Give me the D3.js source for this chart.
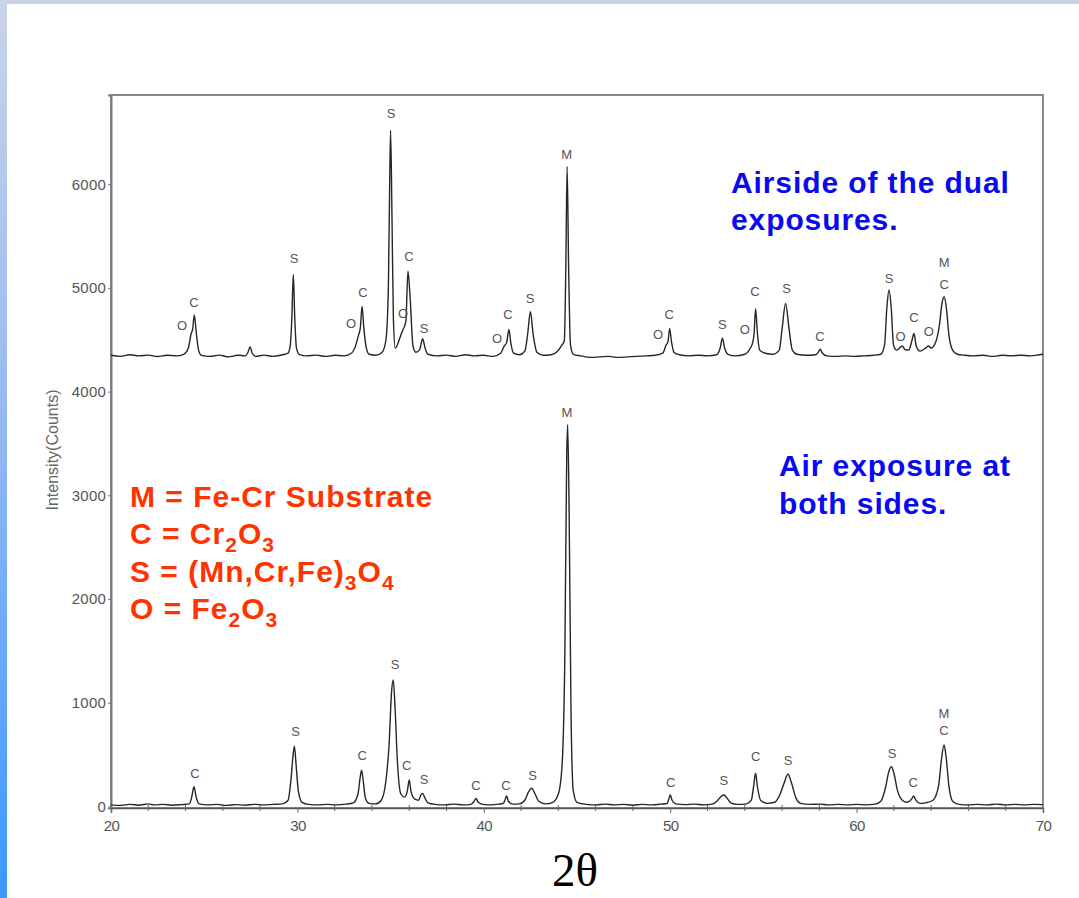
<!DOCTYPE html>
<html>
<head>
<meta charset="utf-8">
<script src="https://cdn.jsdelivr.net/npm/d3@7"></script>
<style>
    body { margin: 0; background: #fff; }
    svg { display: block; }
</style>
</head>
<body>
<div id="chart"></div>
<script>
// [2theta (deg), intensity (counts)]
const airsideScan = [
    [20.0, 4350], [20.5, 4340], [21.0, 4355], [21.5, 4345], [22.0, 4352], [22.5, 4338], [23.0, 4350], [23.5, 4345], [23.9, 4360],
    [24.15, 4420], [24.3, 4560], [24.38, 4600], [24.47, 4740], [24.58, 4560], [24.7, 4400], [24.85, 4350],
    [25.3, 4340], [25.8, 4352], [26.3, 4335], [26.8, 4350], [27.2, 4345], [27.35, 4380], [27.46, 4430], [27.58, 4370], [27.75, 4340],
    [28.2, 4352], [28.7, 4340], [29.2, 4355], [29.5, 4370],
    [29.62, 4450], [29.7, 4700], [29.78, 5130], [29.86, 4700], [29.95, 4420], [30.1, 4360],
    [30.5, 4345], [31.0, 4352], [31.5, 4340], [32.0, 4350], [32.5, 4345], [32.9, 4370],
    [33.1, 4430], [33.28, 4545], [33.38, 4620], [33.47, 4820], [33.57, 4600], [33.7, 4420], [33.85, 4360],
    [34.2, 4350], [34.55, 4380], [34.75, 4500],
    [34.88, 5000], [34.95, 6000], [35.0, 6520], [35.08, 5600], [35.15, 4700], [35.25, 4420],
    [35.5, 4520], [35.6, 4570], [35.82, 4680], [35.93, 5160], [36.05, 4900], [36.2, 4440], [36.35, 4380],
    [36.55, 4400], [36.72, 4510], [36.85, 4420], [37.0, 4360],
    [37.5, 4345], [38.0, 4352], [38.5, 4340], [39.0, 4355], [39.5, 4345], [40.0, 4350], [40.5, 4340], [40.9, 4370],
    [41.1, 4440], [41.22, 4470], [41.35, 4600], [41.45, 4470], [41.6, 4370], [41.9, 4355], [42.2, 4390],
    [42.35, 4550], [42.5, 4770], [42.65, 4550], [42.85, 4380], [43.2, 4350], [43.6, 4355], [43.9, 4380], [44.2, 4450], [44.32, 4490],
    [44.4, 5200], [44.47, 6170], [44.55, 5200], [44.65, 4450], [44.8, 4360],
    [45.2, 4345], [45.7, 4330], [46.2, 4335], [46.7, 4340], [47.2, 4330], [47.7, 4335], [48.2, 4340], [48.7, 4345], [49.2, 4350], [49.6, 4370],
    [49.78, 4450], [49.88, 4480], [49.97, 4610], [50.07, 4480], [50.2, 4380],
    [50.5, 4355], [51.0, 4345], [51.5, 4350], [52.0, 4345], [52.5, 4355],
    [52.68, 4420], [52.8, 4515], [52.92, 4420], [53.1, 4360], [53.5, 4345], [54.0, 4360], [54.3, 4420],
    [54.42, 4470], [54.5, 4560], [54.58, 4800], [54.68, 4560], [54.8, 4400], [55.1, 4370], [55.5, 4360], [55.85, 4400],
    [56.0, 4600], [56.19, 4850], [56.38, 4600], [56.55, 4400], [56.8, 4360], [57.3, 4350], [57.8, 4355],
    [57.95, 4380], [58.05, 4410], [58.15, 4375], [58.4, 4345],
    [58.9, 4340], [59.4, 4345], [59.9, 4340], [60.4, 4345], [60.9, 4350], [61.3, 4360],
    [61.5, 4450], [61.62, 4800], [61.74, 4980], [61.86, 4800], [61.98, 4450], [62.15, 4400],
    [62.3, 4420], [62.45, 4440], [62.6, 4405], [62.8, 4400],
    [62.95, 4480], [63.08, 4560], [63.2, 4440], [63.4, 4390],
    [63.7, 4420], [63.85, 4440], [64.0, 4420], [64.25, 4480],
    [64.45, 4650], [64.58, 4850], [64.7, 4915], [64.82, 4800], [64.95, 4550], [65.15, 4400], [65.4, 4360],
    [65.8, 4350], [66.3, 4345], [66.8, 4350], [67.3, 4340], [67.8, 4350], [68.3, 4345], [68.8, 4350], [69.3, 4345], [69.8, 4355], [70.0, 4360]
];

const bothSidesScan = [
    [20.0, 15], [20.5, 10], [21.0, 20], [21.5, 12], [22.0, 25], [22.3, 15], [22.8, 20], [23.3, 12], [23.8, 18], [24.2, 25],
    [24.33, 90], [24.45, 190], [24.57, 90], [24.72, 25],
    [25.2, 15], [25.7, 20], [26.2, 10], [26.7, 18], [27.2, 12], [27.7, 20], [28.2, 15], [28.7, 20], [29.2, 25], [29.5, 60],
    [29.65, 250], [29.76, 480], [29.84, 580], [29.93, 400], [30.05, 150], [30.25, 40],
    [30.6, 20], [31.1, 15], [31.6, 20], [32.1, 15], [32.6, 22], [33.0, 35],
    [33.25, 120], [33.36, 270], [33.44, 350], [33.53, 250], [33.65, 80], [33.85, 30], [34.2, 25], [34.5, 60],
    [34.75, 250], [34.92, 600], [35.05, 1100], [35.14, 1220], [35.24, 950], [35.36, 450], [35.55, 120], [35.75, 90],
    [35.9, 150], [36.0, 255], [36.1, 140], [36.3, 70],
    [36.5, 60], [36.62, 110], [36.72, 126], [36.82, 90], [37.0, 35],
    [37.4, 20], [37.9, 15], [38.4, 22], [38.9, 15], [39.3, 20],
    [39.48, 50], [39.58, 78], [39.7, 40], [39.95, 20], [40.4, 15], [40.8, 22], [41.05, 30],
    [41.15, 70], [41.22, 100], [41.32, 50], [41.55, 22], [41.9, 25], [42.2, 60],
    [42.4, 140], [42.57, 175], [42.75, 120], [42.95, 50], [43.3, 25], [43.7, 40], [44.0, 120], [44.2, 400],
    [44.35, 1500], [44.45, 3400], [44.5, 3680], [44.58, 2800], [44.68, 900], [44.8, 150], [45.0, 40],
    [45.5, 20], [46.0, 15], [46.5, 22], [47.0, 15], [47.5, 20], [48.0, 12], [48.5, 20], [49.0, 15], [49.5, 22], [49.85, 30],
    [49.92, 70], [50.0, 110], [50.1, 60], [50.3, 25],
    [50.8, 18], [51.3, 22], [51.8, 15], [52.3, 25],
    [52.55, 60], [52.75, 100], [52.88, 110], [53.05, 80], [53.25, 35], [53.6, 20], [54.1, 25], [54.35, 60],
    [54.48, 200], [54.58, 320], [54.68, 190], [54.85, 60], [55.2, 30], [55.6, 40], [55.9, 120],
    [56.1, 220], [56.32, 310], [56.5, 230], [56.75, 80], [57.0, 30],
    [57.5, 20], [58.0, 22], [58.5, 15], [59.0, 20], [59.5, 15], [60.0, 20], [60.5, 15], [61.0, 22], [61.3, 50],
    [61.55, 180], [61.72, 330], [61.87, 383], [62.0, 320], [62.2, 150], [62.45, 60], [62.7, 40],
    [62.95, 70], [63.06, 100], [63.18, 60], [63.4, 30], [63.7, 35], [64.1, 60],
    [64.4, 200], [64.55, 450], [64.69, 592], [64.8, 480], [64.95, 200], [65.15, 50],
    [65.5, 20], [66.0, 15], [66.5, 20], [67.0, 15], [67.5, 22], [68.0, 15], [68.5, 20], [69.0, 15], [69.5, 20], [70.0, 18]
];

// phase letters over the peaks: [2theta, counts, letter]
const airsideLabels = [
    [23.81, 4643, "O"], [24.45, 4864, "C"], [29.82, 5284, "S"], [32.88, 4662, "O"], [33.52, 4960, "C"],
    [35.02, 6686, "S"], [35.67, 4759, "O"], [35.99, 5303, "C"], [36.79, 4613, "S"],
    [40.71, 4517, "O"], [41.3, 4749, "C"], [42.48, 4902, "S"], [44.45, 6284, "M"],
    [49.35, 4556, "O"], [49.94, 4749, "C"], [52.8, 4652, "S"], [54.0, 4604, "O"], [54.55, 4963, "C"],
    [56.24, 4996, "S"], [58.04, 4529, "C"], [61.74, 5095, "S"], [62.36, 4529, "O"], [63.08, 4720, "C"],
    [63.88, 4578, "O"], [64.7, 5243, "M"], [64.7, 5037, "C"]
];

const bothSidesLabels = [
    [24.5, 319, "C"], [29.9, 727, "S"], [33.48, 496, "C"], [35.24, 1373, "S"], [35.86, 399, "C"],
    [36.79, 261, "S"], [39.58, 206, "C"], [41.19, 206, "C"], [42.62, 303, "S"], [44.46, 3803, "M"],
    [50.03, 229, "C"], [52.88, 255, "S"], [54.58, 479, "C"], [56.32, 447, "S"], [61.9, 512, "S"],
    [63.04, 229, "C"], [64.69, 898, "M"], [64.69, 737, "C"]
];

const xTicks = [20, 30, 40, 50, 60, 70];
const xMinorTicks = [22, 24, 26, 28, 32, 34, 36, 38, 42, 44, 46, 48, 52, 54, 56, 58, 62, 64, 66, 68];
const yTicks = [0, 1000, 2000, 3000, 4000, 5000, 6000];

// legend lines, each part: [text, isSubscript]
const legendLines = [
    [["M = Fe-Cr Substrate", false]],
    [["C = Cr", false], ["2", true], ["O", false], ["3", true]],
    [["S = (Mn,Cr,Fe)", false], ["3", true], ["O", false], ["4", true]],
    [["O = Fe", false], ["2", true], ["O", false], ["3", true]]
];
const airsideNote = ["Airside of the dual", "exposures."];
const bothSidesNote = ["Air exposure at", "both sides."];

function DrawChart() {
    const width = 1079;
    const height = 898;
    const margin = { top: 95, right: 36, bottom: 90, left: 111 };

    const svg = d3.select("#chart")
        .append("svg")
        .attr("width", width)
        .attr("height", height);

    // slide decoration: light band on top, blue gradient on the left
    const defs = svg.append("defs");
    const grad = defs.append("linearGradient")
        .attr("id", "sideBar")
        .attr("x1", 0).attr("y1", 0).attr("x2", 0).attr("y2", 1);
    grad.append("stop").attr("offset", 0).attr("stop-color", "#cad4e8");
    grad.append("stop").attr("offset", 0.5).attr("stop-color", "#91b7f3");
    grad.append("stop").attr("offset", 1).attr("stop-color", "#3b98ff");

    svg.append("rect").attr("width", width).attr("height", 4).attr("fill", "#c9d3e7");
    svg.append("rect").attr("width", 7).attr("height", height).attr("fill", "url(#sideBar)");

    defs.append("clipPath").attr("id", "plotClip")
        .append("rect")
        .attr("x", margin.left).attr("y", margin.top)
        .attr("width", width - margin.left - margin.right)
        .attr("height", height - margin.top - margin.bottom);

    const x = d3.scaleLinear()
        .domain([20, 70])
        .range([margin.left, width - margin.right]);

    const y = d3.scaleLinear()
        .domain([-15, 6860])
        .range([height - margin.bottom, margin.top]);

    // frame
    svg.append("rect")
        .attr("x", margin.left)
        .attr("y", margin.top)
        .attr("width", width - margin.left - margin.right)
        .attr("height", height - margin.top - margin.bottom)
        .attr("fill", "none")
        .attr("stroke", "#8a8a8a")
        .attr("stroke-width", 2);

    // y axis
    const yAxis = svg.append("g")
        .attr("transform", `translate(${margin.left},0)`)
        .call(d3.axisLeft(y).tickValues(yTicks).tickSize(3).tickPadding(2).tickFormat(d3.format("d")));
    yAxis.select(".domain").attr("stroke", "#7a7a7a").attr("stroke-width", 2);
    yAxis.selectAll(".tick line").attr("stroke", "#777");
    yAxis.selectAll(".tick text")
        .attr("fill", "#555")
        .attr("font-family", "Liberation Sans, Arial, sans-serif")
        .attr("font-size", "15px")
        .attr("letter-spacing", "0.2px");

    // x axis, majors every 10, small ticks every 2
    const xAxis = svg.append("g")
        .attr("transform", `translate(0,${height - margin.bottom})`)
        .call(d3.axisBottom(x).tickValues(xTicks).tickSize(5).tickPadding(7));
    xAxis.select(".domain").attr("stroke", "#555").attr("stroke-width", 1.5);
    xAxis.selectAll(".tick line").attr("stroke", "#666");
    xAxis.selectAll(".tick text")
        .attr("fill", "#555")
        .attr("font-family", "Liberation Sans, Arial, sans-serif")
        .attr("font-size", "15px")
        .attr("letter-spacing", "-0.6px");

    xAxis.selectAll("line.minor")
        .data(xMinorTicks)
        .join("line")
        .attr("class", "minor")
        .attr("x1", d => x(d)).attr("x2", d => x(d))
        .attr("y1", -3).attr("y2", 3)
        .attr("stroke", "#666");

    const line = d3.line()
        .x(d => x(d[0]))
        .y(d => y(d[1]))
        .curve(d3.curveMonotoneX);

    const traces = svg.append("g").attr("clip-path", "url(#plotClip)");
    [airsideScan, bothSidesScan].forEach(scan => {
        traces.append("path")
            .datum(scan)
            .attr("fill", "none")
            .attr("stroke", "#262626")
            .attr("stroke-width", 1.4)
            .attr("stroke-linejoin", "round")
            .attr("d", line);
    });

    // phase letters
    svg.append("g")
        .attr("font-family", "Liberation Sans, Arial, sans-serif")
        .attr("font-size", "13px")
        .attr("fill", "#555")
        .attr("text-anchor", "middle")
        .selectAll("text")
        .data(airsideLabels.concat(bothSidesLabels))
        .join("text")
        .attr("x", d => x(d[0]))
        .attr("y", d => y(d[1]))
        .attr("dy", "0.36em")
        .text(d => d[2]);

    // y title
    svg.append("text")
        .attr("transform", "translate(58,450) rotate(-90)")
        .attr("text-anchor", "middle")
        .attr("font-family", "Liberation Sans, Arial, sans-serif")
        .attr("font-size", "16px")
        .attr("fill", "#666")
        .text("Intensity(Counts)");

    // x title
    svg.append("text")
        .attr("x", 552)
        .attr("y", 886)
        .attr("font-family", "Liberation Serif, Times New Roman, serif")
        .attr("font-size", "47px")
        .attr("fill", "#000")
        .text("2θ");

    // legend of phases
    const legend = svg.append("g")
        .attr("font-family", "Liberation Sans, Arial, sans-serif")
        .attr("font-weight", "bold")
        .attr("font-size", "30px")
        .attr("letter-spacing", "1px")
        .attr("fill", "#ff3300");

    legendLines.forEach((parts, i) => {
        const t = legend.append("text")
            .attr("x", 130)
            .attr("y", 507 + i * 37.4);
        parts.forEach(([txt, sub], j) => {
            const prevSub = j > 0 && parts[j - 1][1];
            const span = t.append("tspan").text(txt);
            if (sub) span.attr("font-size", "21px").attr("dy", 8);
            else if (prevSub) span.attr("dy", -8);
        });
    });

    // notes in blue
    const notes = svg.append("g")
        .attr("font-family", "Liberation Sans, Arial, sans-serif")
        .attr("font-weight", "bold")
        .attr("font-size", "30px")
        .attr("letter-spacing", "0.9px")
        .attr("fill", "#0a0af0");

    notes.selectAll("text.airside")
        .data(airsideNote)
        .join("text")
        .attr("class", "airside")
        .attr("x", 731)
        .attr("y", (d, i) => 193 + i * 37)
        .text(d => d);

    notes.selectAll("text.both")
        .data(bothSidesNote)
        .join("text")
        .attr("class", "both")
        .attr("x", 779)
        .attr("y", (d, i) => 476 + i * 38)
        .text(d => d);

    return svg.node();
}

DrawChart();
</script>
</body>
</html>
